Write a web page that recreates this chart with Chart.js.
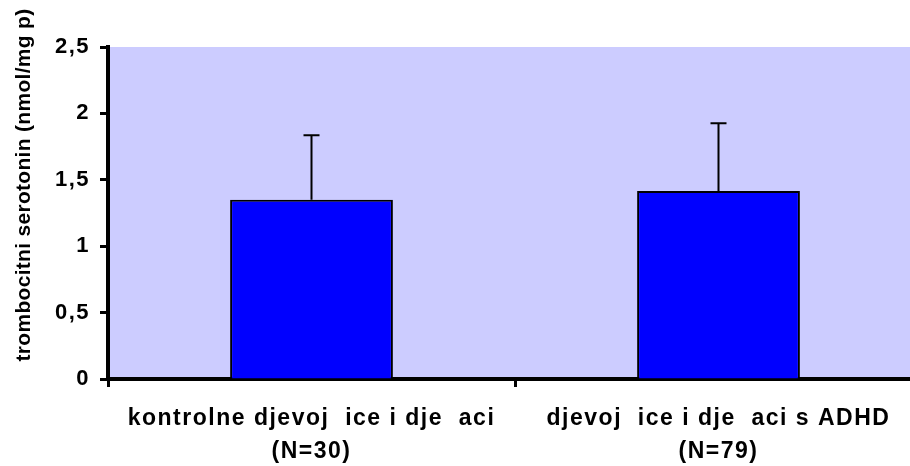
<!DOCTYPE html>
<html>
<head>
  <script src="https://cdn.jsdelivr.net/npm/chart.js"></script>
  <style>
    html, body { margin: 0; padding: 0; background: #fff; overflow: hidden; }
    .wrap { width: 924px; height: 466px; }
  </style>
</head>
<body>
  <div class="wrap">
    <canvas id="chart" width="924" height="466"></canvas>
  </div>
  <script>
    // data
    const categories = [
      ['kontrolne djevoj  ice i dje  aci', '(N=30)'],
      ['djevoj  ice i dje  aci s ADHD', '(N=79)']
    ];
    const means = [1.35, 1.415];
    const errors = [0.485, 0.51];
    const yTicks = [0, 0.5, 1, 1.5, 2, 2.5];
    const yTitle = 'trombocitni serotonin (nmol/mg p)';

    const FONT = '"Liberation Sans", Arial, sans-serif';

    // lavender plot background + wider letter spacing like the original
    const plotBg = {
      id: 'plotBg',
      beforeDraw(chart) {
        const a = chart.chartArea;
        const ctx = chart.ctx;
        ctx.letterSpacing = '1.5px';
        ctx.save();
        ctx.fillStyle = '#CCCCFF';
        ctx.fillRect(a.left, a.top, a.right - a.left, a.bottom - a.top);
        ctx.restore();
      }
    };

    // upper error bars
    const errBars = {
      id: 'errBars',
      afterDatasetsDraw(chart) {
        const ctx = chart.ctx;
        const meta = chart.getDatasetMeta(0);
        const y = chart.scales.y;
        ctx.save();
        ctx.strokeStyle = '#000';
        ctx.lineWidth = 2;
        meta.data.forEach((bar, i) => {
          const top = y.getPixelForValue(means[i] + errors[i]);
          ctx.beginPath();
          ctx.moveTo(bar.x, bar.y);
          ctx.lineTo(bar.x, top);
          ctx.moveTo(bar.x - 8, top);
          ctx.lineTo(bar.x + 8, top);
          ctx.stroke();
        });
        ctx.restore();
      }
    };

    // rotated y title, placed like the original
    const yTitlePlugin = {
      id: 'yTitle',
      afterDraw(chart) {
        const ctx = chart.ctx;
        ctx.save();
        ctx.letterSpacing = '0.3px';
        ctx.translate(24, 185);
        ctx.rotate(-Math.PI / 2);
        ctx.font = 'bold 21px ' + FONT;
        ctx.fillStyle = '#000';
        ctx.textAlign = 'center';
        ctx.textBaseline = 'middle';
        ctx.fillText(yTitle, 0, 0);
        ctx.restore();
      }
    };

    new Chart(document.getElementById('chart'), {
      type: 'bar',
      data: {
        labels: categories,
        datasets: [{
          data: means,
          backgroundColor: '#0000FF',
          borderColor: '#000',
          borderWidth: 2,
          borderSkipped: 'bottom',
          categoryPercentage: 0.4,
          barPercentage: 1.0
        }]
      },
      options: {
        responsive: false,
        animation: false,
        devicePixelRatio: 1,
        layout: { padding: { left: 0, top: 47, right: 2, bottom: 0 } },
        plugins: {
          legend: { display: false },
          tooltip: { enabled: false }
        },
        scales: {
          x: {
            grid: {
              display: true,
              drawOnChartArea: false,
              drawTicks: true,
              tickLength: 8,
              tickWidth: 3,
              tickColor: '#000',
              offset: true
            },
            border: { color: '#000', width: 4 },
            ticks: {
              color: '#000',
              font: { family: FONT, size: 23, weight: 'bold', lineHeight: 1.45 },
              padding: 15,
              maxRotation: 0,
              autoSkip: false
            },
            afterFit(scale) { scale.height = 87; }
          },
          y: {
            min: 0,
            max: 2.5,
            afterBuildTicks(scale) {
              scale.ticks = yTicks.map(v => ({ value: v }));
            },
            grid: {
              display: true,
              drawOnChartArea: false,
              drawTicks: true,
              tickLength: 8,
              tickWidth: 3,
              tickColor: '#000'
            },
            border: { color: '#000', width: 4 },
            ticks: {
              color: '#000',
              font: { family: FONT, size: 22, weight: 'bold' },
              padding: 10,
              callback: v => String(v).replace('.', ',')
            },
            afterFit(scale) { scale.width = 108; }
          }
        }
      },
      plugins: [plotBg, errBars, yTitlePlugin]
    });
  </script>
</body>
</html>
